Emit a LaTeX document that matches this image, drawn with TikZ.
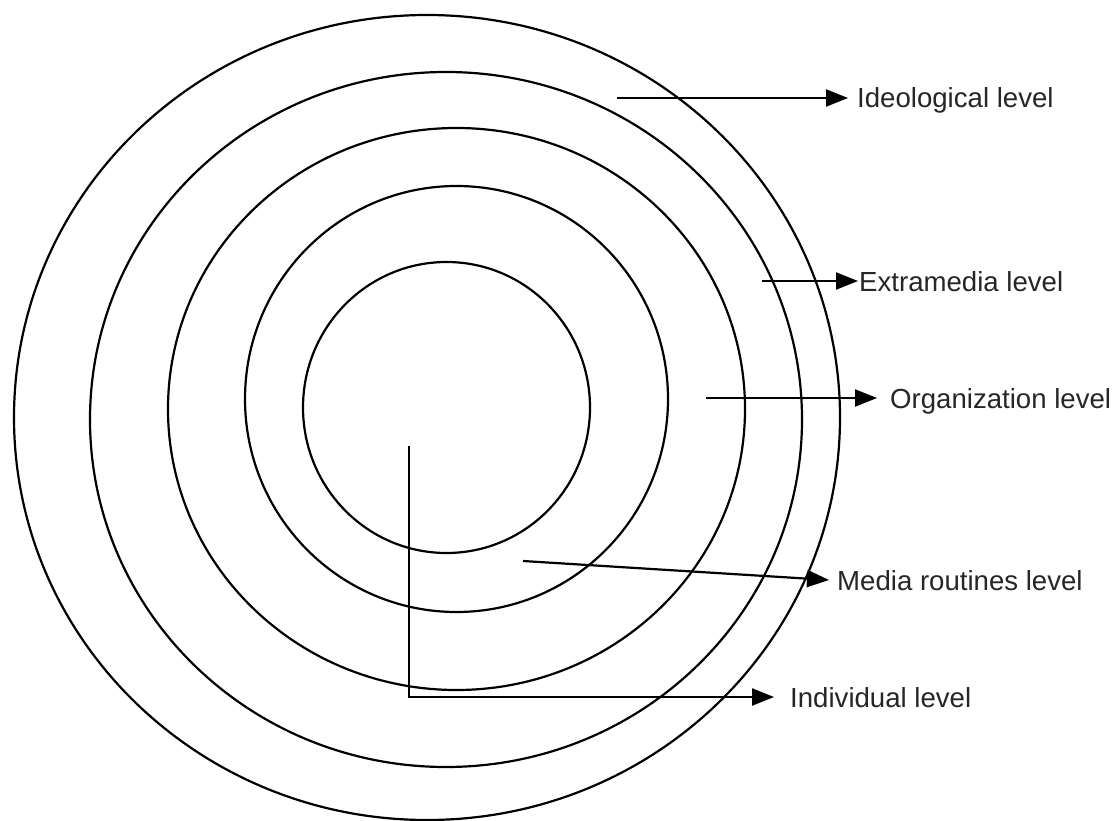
\documentclass[tikz,border=0pt]{standalone}
\usepackage{fontspec}
\setmainfont{Liberation Sans}
\usetikzlibrary{arrows.meta}
\begin{document}
\begin{tikzpicture}[x=1pt,y=-1pt,
  ring/.style={line width=2.2pt,black},
  conn/.style={line width=2.2pt,black,-{Triangle[length=22pt,width=17pt]}},
  lbl/.style={inner sep=0pt,anchor=base west,font=\fontsize{27.6}{30}\selectfont,text=black!85}]
\useasboundingbox[fill=white] (0,0) rectangle (1118,821);
% rings (outer to inner)
\draw[ring] (427,417.5) ellipse [x radius=413, y radius=402.5];
\draw[ring] (446,419.5) ellipse [x radius=356, y radius=347.5];
\draw[ring] (456.5,409) ellipse [x radius=288.5, y radius=281];
\draw[ring] (456.5,399) ellipse [x radius=211.5, y radius=213];
\draw[ring] (446.5,407.5) ellipse [x radius=143.5, y radius=145.5];
% labels
\node[lbl] (ideo) at (857,108) {Ideological level};
\node[lbl] (extra) at (859,291) {Extramedia level};
\node[lbl] (org) at (890,408) {Organization level};
\node[lbl] (media) at (837,590) {Media routines level};
\node[lbl] (indiv) at (790,707) {Individual level};
% connector ends
\coordinate (ideoS) at (617,98);   \coordinate (ideoT) at (848,98);
\coordinate (extraS) at (762,281); \coordinate (extraT) at (858,281);
\coordinate (orgS) at (706,398);   \coordinate (orgT) at (877,398);
\coordinate (mediaS) at (523,561); \coordinate (mediaT) at (829,580);
\coordinate (indS) at (409,446);   \coordinate (indC) at (409,697);
\coordinate (indT) at (774,697);
% connectors
\draw[conn] (ideoS) -- (ideoT);
\draw[conn] (extraS) -- (extraT);
\draw[conn] (orgS) -- (orgT);
\draw[conn] (mediaS) -- (mediaT);
\draw[conn] (indS) -- (indC) -- (indT);
\end{tikzpicture}
\end{document}
